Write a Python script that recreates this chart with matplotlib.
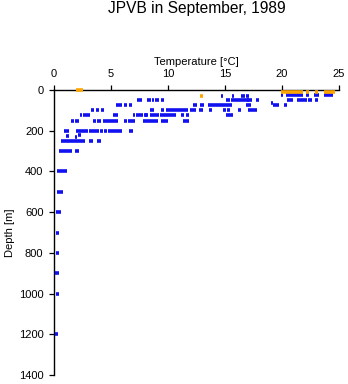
import matplotlib
matplotlib.use('Agg')
import matplotlib.pyplot as plt

plt.rcParams['font.family'] = ['Liberation Sans', 'DejaVu Sans']

# Orange readings: depth [m], temperature start, temperature end [°C]
orange_depth = [2, 30, 10, 10, 10, 10]
orange_t0 = [1.93, 12.8, 19.9, 22.1, 22.9, 23.7]
orange_t1 = [2.56, 13.05, 21.8, 22.4, 23.2, 24.65]

# Blue readings: depth [m], temperature start, temperature end [°C]
blue_depth = [
    26, 26, 26, 26, 26,
    30, 30, 30, 30,
    50, 50, 50, 50, 50, 50, 50, 50, 50, 50, 50, 50, 50, 50,
    65,
    75, 75, 75, 75, 75, 75, 75, 75, 75,
    100, 100, 100, 100, 100, 100, 100, 100, 100, 100, 100, 100, 100,
    125, 125, 125, 125, 125, 125, 125, 125, 125, 125, 125, 125, 125, 125, 125,
    150, 150, 150, 150, 150, 150, 150, 150, 150, 150, 150,
    200, 200, 200, 200, 200, 200, 200,
    225, 230, 220,
    250, 250, 250,
    300, 300,
    400, 500, 600, 700, 800, 900, 1000, 1200,
]
blue_t0 = [
    19.9, 20.35, 22.1, 22.85, 23.7,
    14.65, 15.6, 16.4, 16.8,
    7.3, 8.2, 8.6, 8.9, 9.35, 15.1, 15.5, 17.7, 20.4, 21.3, 22.3, 22.9, 7.5, 16.9,
    19.05,
    5.4, 6.1, 6.6, 12.2, 12.85, 13.5, 16.85, 19.2, 20.2,
    3.25, 3.65, 4.1, 8.4, 9.4, 9.8, 11.9, 12.75, 13.6, 14.8, 15.2, 16.15, 17.0,
    2.25, 2.55, 5.2, 7.2, 7.9, 8.0, 8.4, 8.9, 9.3, 9.95, 10.3, 11.15, 11.55, 15.05, 6.9,
    1.5, 1.85, 3.4, 3.8, 4.3, 6.1, 6.5, 7.85, 9.4, 11.3, 8.9,
    0.9, 1.9, 3.1, 4.0, 4.4, 4.7, 6.6,
    1.05, 1.85, 2.1,
    0.6, 3.1, 3.8,
    0.45, 1.85,
    0.3, 0.25, 0.2, 0.2, 0.2, 0.12, 0.15, 0.08,
]
blue_t1 = [
    20.1, 21.85, 22.4, 23.25, 24.45,
    14.85, 15.8, 16.75, 17.1,
    7.5, 8.5, 8.8, 9.2, 9.65, 15.4, 17.4, 18.0, 20.95, 22.2, 22.6, 23.15, 7.7, 17.1,
    19.25,
    6.0, 6.4, 6.8, 12.55, 13.15, 15.6, 17.3, 19.7, 20.45,
    3.5, 3.97, 4.4, 8.8, 9.65, 11.75, 12.45, 13.05, 13.9, 15.1, 15.45, 16.4, 17.8,
    2.45, 3.15, 5.65, 7.8, 8.2, 8.25, 8.85, 9.2, 9.9, 10.25, 10.7, 11.4, 11.85, 15.7, 7.1,
    1.75, 2.2, 3.7, 4.1, 5.6, 6.4, 7.1, 8.85, 10.0, 11.85, 9.1,
    1.3, 3.0, 3.95, 4.3, 4.65, 5.95, 6.9,
    1.3, 2.0, 2.35,
    2.7, 3.4, 4.1,
    1.55, 2.2,
    1.1, 0.75, 0.6, 0.4, 0.45, 0.42, 0.4, 0.35,
]

x_ticks = [0, 5, 10, 15, 20, 25]
y_ticks = [0, 200, 400, 600, 800, 1000, 1200, 1400]

fig = plt.figure(figsize=(3.48, 3.84), dpi=100)
ax = fig.add_axes([54 / 348, 1 - 375 / 384, 285 / 348, 285 / 384])

ax.hlines(blue_depth, blue_t0, blue_t1, colors='#1010f0', linewidth=2.6,
          zorder=3, clip_on=False)
ax.hlines(orange_depth, orange_t0, orange_t1, colors='#ffa500', linewidth=2.6,
          zorder=4, clip_on=False)

ax.set_xlim(0, 25)
ax.set_ylim(1400, 0)
ax.set_xticks(x_ticks)
ax.set_yticks(y_ticks)

for side in ('bottom', 'right'):
    ax.spines[side].set_visible(False)
for side in ('top', 'left'):
    ax.spines[side].set_linewidth(1.0)
    ax.spines[side].set_zorder(2)

ax.xaxis.set_ticks_position('top')
ax.xaxis.set_label_position('top')
ax.tick_params(direction='out', length=3.6, width=0.9, labelsize=8, pad=4)

ax.set_xlabel('Temperature [°C]', fontsize=8, labelpad=3)
ax.set_ylabel('Depth [m]', fontsize=8, labelpad=3)

fig.text(196.5 / 348, 1 - 13.5 / 384, 'JPVB in September, 1989',
         ha='center', va='baseline', fontsize=11.2)

fig.savefig('out.png', dpi=100)
